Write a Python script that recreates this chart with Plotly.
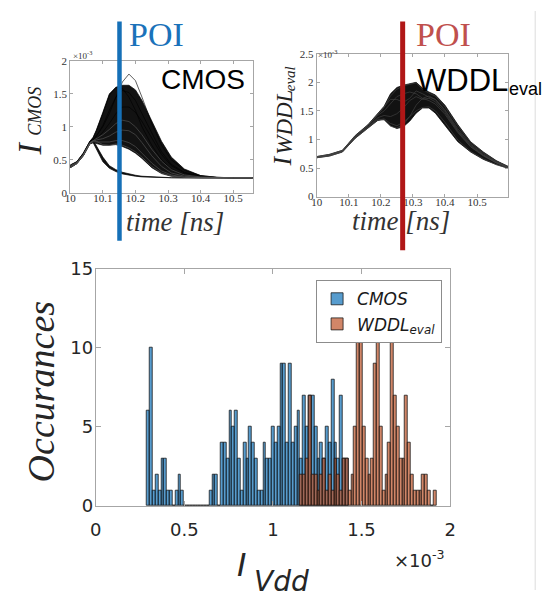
import plotly.graph_objects as go

# ---------------- CMOS supply-current traces (values in units of 1e-3 A) ----------------
cmos_time = [10.00, 10.02, 10.04, 10.06, 10.07, 10.08, 10.10, 10.12, 10.14, 10.16,
             10.18, 10.20, 10.22, 10.25, 10.28, 10.31, 10.35, 10.40, 10.45, 10.50, 10.56]
# outer edges of the dense main bundle
cmos_main_upper = [0.42, 0.47, 0.60, 0.78, 0.84, 0.95, 1.22, 1.50, 1.60, 1.63, 1.63,
                   1.56, 1.40, 1.08, 0.78, 0.54, 0.36, 0.26, 0.235, 0.225, 0.225]
cmos_main_lower = [0.38, 0.44, 0.56, 0.74, 0.76, 0.75, 0.72, 0.72, 0.73, 0.70, 0.66,
                   0.60, 0.52, 0.38, 0.29, 0.25, 0.232, 0.226, 0.225, 0.225, 0.225]
# edges of the early-decaying bundle
cmos_early_upper = [0.42, 0.47, 0.60, 0.78, 0.80, 0.72, 0.54, 0.41, 0.35, 0.31, 0.285,
                    0.265, 0.25, 0.24, 0.232, 0.228, 0.226, 0.225, 0.225, 0.225, 0.225]
cmos_early_lower = [0.38, 0.44, 0.56, 0.74, 0.76, 0.66, 0.47, 0.37, 0.32, 0.285, 0.265,
                    0.25, 0.24, 0.232, 0.228, 0.226, 0.225, 0.225, 0.225, 0.225, 0.225]
# individual traces
cmos_trace_1 = [0.40, 0.46, 0.58, 0.76, 0.80, 0.86, 1.00, 1.20, 1.45, 1.68, 1.80,
                1.70, 1.45, 1.05, 0.72, 0.50, 0.34, 0.26, 0.232, 0.225, 0.225]
cmos_trace_2 = [0.41, 0.46, 0.59, 0.77, 0.83, 0.94, 1.20, 1.48, 1.60, 1.58, 1.45,
                1.25, 1.00, 0.72, 0.50, 0.36, 0.28, 0.24, 0.23, 0.225, 0.225]
cmos_trace_3 = [0.40, 0.45, 0.58, 0.76, 0.80, 0.86, 1.02, 1.25, 1.45, 1.55, 1.52,
                1.40, 1.20, 0.90, 0.62, 0.43, 0.31, 0.25, 0.23, 0.225, 0.225]
cmos_trace_4 = [0.39, 0.45, 0.57, 0.75, 0.78, 0.82, 0.92, 1.05, 1.20, 1.30, 1.30,
                1.22, 1.08, 0.82, 0.58, 0.41, 0.30, 0.25, 0.23, 0.225, 0.225]
cmos_trace_5 = [0.40, 0.45, 0.57, 0.75, 0.79, 0.82, 0.88, 0.96, 1.05, 1.10, 1.08,
                1.00, 0.88, 0.66, 0.48, 0.35, 0.27, 0.24, 0.228, 0.225, 0.225]
cmos_trace_6 = [0.39, 0.44, 0.57, 0.75, 0.78, 0.80, 0.82, 0.86, 0.92, 0.95, 0.94,
                0.88, 0.76, 0.56, 0.40, 0.30, 0.25, 0.23, 0.225, 0.225, 0.225]
cmos_trace_7 = [0.38, 0.44, 0.56, 0.74, 0.77, 0.77, 0.76, 0.77, 0.79, 0.79, 0.76,
                0.70, 0.60, 0.45, 0.33, 0.27, 0.235, 0.227, 0.225, 0.225, 0.225]
cmos_trace_8 = [0.41, 0.46, 0.58, 0.76, 0.79, 0.78, 0.73, 0.72, 0.74, 0.72, 0.68,
                0.62, 0.54, 0.40, 0.30, 0.255, 0.232, 0.226, 0.225, 0.225, 0.225]
cmos_poi_time = 10.151

# ---------------- WDDL (evaluation phase) supply-current traces ----------------
wddl_time = [10.00, 10.04, 10.08, 10.12, 10.16, 10.19, 10.21, 10.23, 10.25, 10.27,
             10.29, 10.31, 10.33, 10.35, 10.37, 10.40, 10.44, 10.48, 10.52, 10.56, 10.60]
wddl_upper = [0.70, 0.74, 0.81, 1.07, 1.26, 1.45, 1.58, 1.80, 1.91, 1.95, 1.98,
              2.00, 1.90, 1.83, 1.78, 1.60, 1.26, 0.96, 0.78, 0.63, 0.52]
wddl_lower = [0.68, 0.71, 0.78, 1.02, 1.20, 1.33, 1.35, 1.24, 1.19, 1.22, 1.32,
              1.46, 1.55, 1.55, 1.46, 1.25, 0.96, 0.78, 0.65, 0.56, 0.49]
wddl_trace_1 = [0.70, 0.74, 0.81, 1.06, 1.25, 1.44, 1.56, 1.76, 1.88, 1.94, 1.97,
                1.99, 1.88, 1.81, 1.76, 1.57, 1.24, 0.95, 0.77, 0.62, 0.52]
wddl_trace_2 = [0.68, 0.72, 0.79, 1.03, 1.21, 1.36, 1.34, 1.23, 1.20, 1.26, 1.40,
                1.60, 1.72, 1.76, 1.70, 1.50, 1.16, 0.90, 0.73, 0.60, 0.50]
wddl_trace_3 = [0.69, 0.73, 0.80, 1.05, 1.24, 1.42, 1.50, 1.62, 1.75, 1.80, 1.83,
                1.80, 1.72, 1.68, 1.62, 1.44, 1.12, 0.87, 0.71, 0.59, 0.50]
wddl_trace_4 = [0.69, 0.72, 0.79, 1.04, 1.22, 1.38, 1.42, 1.40, 1.45, 1.55, 1.68,
                1.75, 1.70, 1.72, 1.66, 1.47, 1.14, 0.88, 0.72, 0.59, 0.50]
wddl_trace_5 = [0.68, 0.71, 0.78, 1.02, 1.20, 1.34, 1.36, 1.28, 1.24, 1.30, 1.40,
                1.50, 1.56, 1.57, 1.50, 1.30, 0.99, 0.79, 0.66, 0.56, 0.49]
wddl_trace_6 = [0.70, 0.73, 0.80, 1.06, 1.25, 1.44, 1.56, 1.70, 1.70, 1.65, 1.72,
                1.85, 1.80, 1.74, 1.70, 1.52, 1.19, 0.92, 0.75, 0.61, 0.51]
wddl_poi_time = 10.268

# ---------------- Histogram of I_Vdd at the POI (bins in units of 1e-3 A) ----------------
bin_width = 0.016
cmos_first_edge = 0.290
cmos_counts = [6, 10, 1, 2, 1, 3, 3, 1, 1, 0, 1, 2, 1,
               0, 0, 0, 0, 0, 0, 0, 0, 0,
               1, 2, 2, 0, 4, 4, 3, 6, 5, 6, 3, 1, 4, 3, 5, 4, 3, 1, 1, 4,
               3, 3, 5, 4, 5, 9, 9, 4, 9, 4, 5, 6, 3, 7, 5, 7, 7, 5, 3, 4, 3, 5,
               4, 8, 4, 3, 7, 3, 3]
wddl_first_edge = 0.290 + 54 * 0.016
wddl_counts = [2, 2, 3, 7, 2, 2, 1, 2, 3, 1, 2, 1, 3, 2, 1, 3, 3, 1, 2, 5,
               13, 12, 5, 3, 2, 3, 9, 13, 5, 1, 2, 4, 12, 7, 5, 3, 3, 7, 4, 2,
               1, 1, 1, 2, 2, 1, 0, 1]

W, H = 550, 600


def px(x):
    return x / W


def py(y):
    return 1 - y / H


fig = go.Figure()

thin = dict(color="black", width=0.7)
band = "rgba(0,0,0,0.93)"


def bundle(t, lower, upper, xa, ya):
    fig.add_trace(go.Scatter(x=t, y=lower, mode="lines", line=thin,
                             xaxis=xa, yaxis=ya, showlegend=False, hoverinfo="skip"))
    fig.add_trace(go.Scatter(x=t, y=upper, mode="lines", line=thin,
                             fill="tonexty", fillcolor=band,
                             xaxis=xa, yaxis=ya, showlegend=False, hoverinfo="skip"))


def curve(t, vals, xa, ya, color="rgba(0,0,0,0.9)"):
    fig.add_trace(go.Scatter(x=t, y=vals, mode="lines", line=dict(color=color, width=0.7),
                             xaxis=xa, yaxis=ya, showlegend=False, hoverinfo="skip"))


# --- CMOS panel ---
bundle(cmos_time, cmos_main_lower, cmos_main_upper, "x", "y")
bundle(cmos_time, cmos_early_lower, cmos_early_upper, "x", "y")
for tr in [cmos_trace_1, cmos_trace_2, cmos_trace_3, cmos_trace_4]:
    curve(cmos_time, tr, "x", "y")
for tr in [cmos_trace_5, cmos_trace_6, cmos_trace_7, cmos_trace_8]:
    curve(cmos_time, tr, "x", "y", "rgba(90,90,90,0.9)")

# --- WDDL panel ---
bundle(wddl_time, wddl_lower, wddl_upper, "x2", "y2")
for tr in [wddl_trace_1, wddl_trace_2, wddl_trace_3,
           wddl_trace_4, wddl_trace_5, wddl_trace_6]:
    curve(wddl_time, tr, "x2", "y2", "rgba(70,70,70,0.9)")

# --- histogram ---
cmos_centers = [cmos_first_edge + (k + 0.5) * bin_width for k in range(len(cmos_counts))]
wddl_centers = [wddl_first_edge + (k + 0.5) * bin_width for k in range(len(wddl_counts))]
edge = dict(color="rgba(20,20,20,0.85)", width=0.9)
fig.add_trace(go.Bar(x=cmos_centers, y=cmos_counts, width=bin_width,
                     marker=dict(color="rgba(0,105,180,0.66)", line=edge),
                     name="<i>CMOS</i>", xaxis="x3", yaxis="y3", hoverinfo="skip"))
fig.add_trace(go.Bar(x=wddl_centers, y=wddl_counts, width=bin_width,
                     marker=dict(color="rgba(190,82,40,0.7)", line=edge),
                     name="<i>WDDL<sub>eval</sub></i>", xaxis="x3", yaxis="y3",
                     hoverinfo="skip"))

axis_gray = "#a6a6a6"
serif_ticks = dict(family="Liberation Serif", size=11, color="#333333")
sans_ticks = dict(family="DejaVu Sans", size=18, color="#262626")


def axis(domain, rng, tickvals, font, anchor, ticklen=3, standoff=0):
    return dict(domain=domain, range=rng, tickvals=tickvals,
                ticktext=[("%g" % v) for v in tickvals], anchor=anchor,
                showgrid=False, zeroline=False, showline=True, linecolor=axis_gray,
                linewidth=1, mirror="ticks", ticks="inside", tickcolor=axis_gray,
                ticklen=ticklen, tickfont=font, fixedrange=True,
                ticklabelstandoff=standoff)


fig.update_layout(
    width=W, height=H, margin=dict(l=0, r=0, t=0, b=0),
    paper_bgcolor="white", plot_bgcolor="white",
    barmode="overlay", bargap=0,
    xaxis=axis([px(65.7), px(252.3)], [10, 10.56], [10, 10.1, 10.2, 10.3, 10.4, 10.5],
               serif_ticks, "y", standoff=-5),
    yaxis=axis([py(188.3), py(51.7)], [0, 2], [0, 0.5, 1, 1.5, 2], serif_ticks, "x"),
    xaxis2=axis([px(317.7), px(513.3)], [10, 10.597], [10, 10.1, 10.2, 10.3, 10.4, 10.5],
                serif_ticks, "y2", standoff=-5),
    yaxis2=axis([py(192.3), py(44.3)], [0, 2.5], [0, 0.5, 1, 1.5, 2, 2.5], serif_ticks, "x2"),
    xaxis3=axis([px(91.7), px(454)], [0, 2], [0, 0.5, 1, 1.5, 2], sans_ticks, "y3", 5,
                standoff=7),
    yaxis3=axis([py(513), py(267)], [0, 15], [0, 5, 10, 15], sans_ticks, "x3", 5,
                standoff=-2),
    legend=dict(x=px(317), y=py(279), xanchor="left", yanchor="top",
                bgcolor="white", bordercolor="#8c8c8c", borderwidth=1,
                font=dict(family="DejaVu Sans", size=17, color="#1a1a1a"),
                traceorder="normal", tracegroupgap=0, itemwidth=30),
)

# POI markers and page divider
fig.add_shape(type="line", xref="x", yref="paper", x0=cmos_poi_time, x1=cmos_poi_time,
              y0=py(11), y1=py(238), line=dict(color="#1670b7", width=4.5))
fig.add_shape(type="line", xref="x2", yref="paper", x0=wddl_poi_time, x1=wddl_poi_time,
              y0=py(11), y1=py(248), line=dict(color="#b01717", width=5))
fig.add_shape(type="line", xref="paper", yref="paper", x0=px(541), x1=px(541),
              y0=0, y1=1, line=dict(color="#dcdcdc", width=1))


def label(text, x, y, size, family, color="#222222", xanchor="center",
          angle=0, italic=False):
    fig.add_annotation(text=text, x=px(x), y=py(y), xref="paper", yref="paper",
                       showarrow=False, xanchor=xanchor, yanchor="middle",
                       textangle=angle,
                       font=dict(size=size, family=family, color=color,
                                 style="italic" if italic else "normal"))


serif = "Liberation Serif"
sans = "Liberation Sans"
dv = "DejaVu Sans"

label("POI", 124, 24, 34, serif, "#1a72ba", "left")
label("POI", 417, 24, 34, serif, "#c0504d", "left")
label("CMOS", 156, 71, 28, sans, "black", "left")
label("WDDL", 418, 72, 31, sans, "black", "left")
label("eval", 512, 81, 18, sans, "black", "left")
label("×10<sup>-3</sup>", 66, 46, 9, serif, "#333333", "left")
label("×10<sup>-3</sup>", 317, 45, 9, serif, "#333333", "left")

# y titles of the trace panels (rotated)
label("I", 24, 142, 34, serif, "#222222", angle=-90, italic=True)
label("CMOS", 30, 104, 18, serif, "#222222", angle=-90, italic=True)
label("I", 283, 155, 26, serif, "#222222", angle=-90, italic=True)
label("WDDL", 285, 115, 23, serif, "#222222", angle=-90, italic=True)
label("eval", 290, 70, 15, serif, "#222222", angle=-90, italic=True)

label("time [ns]", 173, 219, 27, serif, "#333333", italic=True)
label("time [ns]", 404, 218, 27, serif, "#333333", italic=True)

# histogram titles
label("Occurances", 36, 395, 38, serif, "#262626", angle=-90, italic=True)
label("I", 241, 574, 32, dv, "#262626", italic=True)
label("Vdd", 251, 591, 28, dv, "#262626", "left", italic=True)
label("×10<sup>-3</sup>", 395, 568, 18, dv, "#262626", "left")

fig.write_html("out.html")
